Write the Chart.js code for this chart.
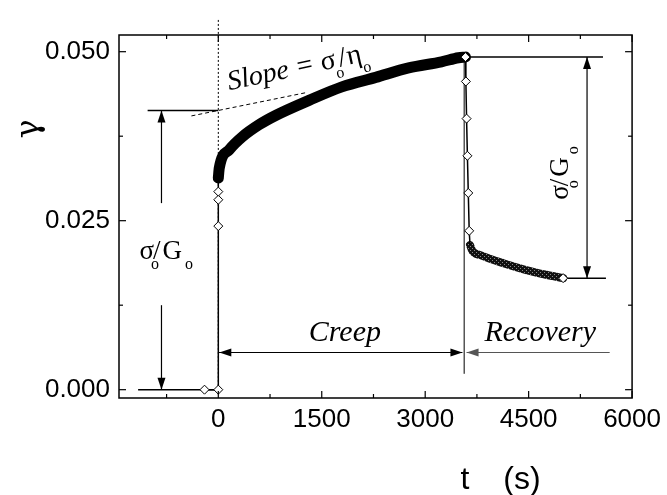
<!DOCTYPE html>
<html>
<head>
<meta charset="utf-8">
<script src="https://cdn.jsdelivr.net/npm/chart.js@4.4.0/dist/chart.umd.min.js"></script>
<style>
  body { margin: 0; background: #fff; }
</style>
</head>
<body>
<canvas id="creepChart" width="667" height="495"></canvas>
<script>
const jumpTime = [-200, 0, 0, 0, 0, 0];
const jumpStrain = [0, 0, 0.0242, 0.0281, 0.0293, 0.0313];

const creepTime = [0, 14, 159, 347, 592, 838, 1315, 1792, 2283, 2760, 3237, 3483, 3584];
const creepStrain = [0.0313, 0.0328, 0.0355, 0.0374, 0.0392, 0.0406, 0.0428, 0.0448, 0.0462, 0.0476, 0.0485, 0.0491, 0.0492];

const dropTime = [3584, 3590, 3600, 3612, 3625, 3638, 3650];
const dropStrain = [0.0492, 0.0456, 0.0401, 0.0346, 0.0291, 0.0235, 0.0214];

const recoveryTime = [3650, 3685, 3800, 4133, 4465, 4754, 5000];
const recoveryStrain = [0.0214, 0.0205, 0.0199, 0.0187, 0.0177, 0.0170, 0.0165];

const xTicks = [0, 1500, 3000, 4500, 6000];
const xMinor = [-750, 750, 2250, 3750, 5250];
const yTicks = [0, 0.025, 0.05];
const yMinor = [0.0125, 0.0375];

function pts(ts, gs) {
  return ts.map((t, i) => ({ x: t, y: gs[i] }));
}

// hatched look of the recovery band
function hatch() {
  const c = document.createElement('canvas');
  c.width = 4; c.height = 4;
  const g = c.getContext('2d');
  g.fillStyle = '#111';
  g.fillRect(0, 0, 4, 4);
  g.fillStyle = '#8a8a8a';
  g.fillRect(0, 0, 1, 1);
  g.fillRect(2, 2, 1, 1);
  return g.createPattern(c, 'repeat');
}

function arrowHead(ctx, x, y, ang) {
  ctx.save();
  ctx.translate(x, y);
  ctx.rotate(ang);
  ctx.beginPath();
  ctx.moveTo(0, 0);
  ctx.lineTo(-12, -4);
  ctx.lineTo(-12, 4);
  ctx.closePath();
  ctx.fill();
  ctx.restore();
}

// writes pieces like sigma_o/G_o, subscript pieces get sub:true
function richText(ctx, x, y, ang, parts, size) {
  ctx.save();
  ctx.translate(x, y);
  ctx.rotate(ang);
  ctx.textBaseline = 'alphabetic';
  ctx.textAlign = 'left';
  let cx = 0;
  parts.forEach(p => {
    const fs = p.sub ? Math.round(size * 0.58) : size;
    ctx.font = (p.italic ? 'italic ' : '') + fs + 'px "Liberation Serif", "Times New Roman", serif';
    cx += p.dx || 0;
    ctx.fillText(p.t, cx, p.sub ? size * 0.38 : 0);
    cx += ctx.measureText(p.t).width;
  });
  ctx.restore();
}

const sigmaG = [
  { t: 'σ' }, { t: 'o', sub: true, dx: -3 }, { t: '/', dx: -6 }, { t: 'G', dx: 2 }, { t: 'o', sub: true, dx: 3 }
];

const annotations = {
  id: 'annotations',
  beforeDatasetsDraw(chart) {
    const ctx = chart.ctx;
    const xs = chart.scales.x, ys = chart.scales.y;
    const X = v => xs.getPixelForValue(v), Y = v => ys.getPixelForValue(v);
    const line = (t1, g1, t2, g2) => {
      ctx.beginPath();
      ctx.moveTo(X(t1), Y(g1));
      ctx.lineTo(X(t2), Y(g2));
      ctx.stroke();
    };
    ctx.save();
    ctx.strokeStyle = '#000';
    ctx.fillStyle = '#000';

    // dotted line at t = 0 and dashed slope line
    ctx.lineWidth = 1;
    ctx.setLineDash([2, 2]);
    line(0, 0.0547, 0, 0);
    ctx.setLineDash([4, 3]);
    line(-390, 0.0405, 1300, 0.0440);
    ctx.setLineDash([]);

    // left sigma/G marker
    ctx.lineWidth = 1.5;
    line(-1025, 0.0413, 0, 0.0413);
    line(-1163, 0, 0, 0);
    ctx.lineWidth = 1.2;
    line(-824, 0.0276, -824, 0.0413);
    arrowHead(ctx, X(-824), Y(0.0413), -Math.PI / 2);
    line(-824, 0.0125, -824, 0);
    arrowHead(ctx, X(-824), Y(0), Math.PI / 2);

    // right sigma/G marker
    ctx.lineWidth = 1.5;
    line(3584, 0.0492, 5578, 0.0492);
    line(5000, 0.0165, 5621, 0.0165);
    ctx.lineWidth = 1.2;
    line(5347, 0.0492, 5347, 0.0165);
    arrowHead(ctx, X(5347), Y(0.0492), -Math.PI / 2);
    arrowHead(ctx, X(5347), Y(0.0165), Math.PI / 2);

    // creep / recovery split
    ctx.lineWidth = 1;
    line(3565, 0.0492, 3565, 0.00235);
    ctx.lineWidth = 1.2;
    line(0, 0.0055, 3540, 0.0055);
    arrowHead(ctx, X(0) + 1, Y(0.0055), Math.PI);
    arrowHead(ctx, X(3540), Y(0.0055), 0);
    ctx.strokeStyle = '#555';
    ctx.fillStyle = '#555';
    line(3600, 0.0055, 5675, 0.0055);
    arrowHead(ctx, X(3600), Y(0.0055), Math.PI);
    ctx.restore();
  },
  afterDraw(chart) {
    const ctx = chart.ctx;
    const xs = chart.scales.x, ys = chart.scales.y;
    const X = v => xs.getPixelForValue(v), Y = v => ys.getPixelForValue(v);
    const a = chart.chartArea;
    ctx.save();
    ctx.strokeStyle = '#000';
    ctx.fillStyle = '#000';
    ctx.lineWidth = 1.5;
    ctx.strokeRect(a.left, a.top, a.right - a.left, a.bottom - a.top);

    // inward ticks on all four sides
    ctx.lineWidth = 1.2;
    const tick = (x1, y1, x2, y2) => { ctx.beginPath(); ctx.moveTo(x1, y1); ctx.lineTo(x2, y2); ctx.stroke(); };
    xTicks.concat(xMinor).forEach(t => {
      const len = xTicks.includes(t) ? 7 : 4;
      const px = X(t);
      tick(px, a.bottom, px, a.bottom - len);
      tick(px, a.top, px, a.top + len);
    });
    yTicks.concat(yMinor).forEach(g => {
      const len = yTicks.includes(g) ? 7 : 4;
      const py = Y(g);
      tick(a.left, py, a.left + len, py);
      tick(a.right, py, a.right - len, py);
    });

    // axis titles
    ctx.font = '32px "DejaVu Serif", serif';
    ctx.textAlign = 'center';
    ctx.textBaseline = 'middle';
    ctx.save();
    ctx.translate(30, 129);
    ctx.rotate(-Math.PI / 2);
    ctx.fillText('γ', 0, 0);
    ctx.restore();
    ctx.textBaseline = 'alphabetic';
    ctx.font = '32px "Liberation Sans", Arial, sans-serif';
    ctx.fillText('t', 465, 489);
    ctx.fillText('(s)', 522, 489);

    // labels inside the plot
    ctx.font = 'italic 30px "Liberation Serif", "Times New Roman", serif';
    ctx.fillText('Creep', X(1835), Y(0.0072));
    ctx.fillText('Recovery', X(4668), Y(0.0072));

    richText(ctx, X(-1142), Y(0.0193), 0, sigmaG, 27);
    richText(ctx, X(5072), Y(0.0281), -Math.PI / 2, sigmaG, 27);
    richText(ctx, X(159), Y(0.0443), -12 * Math.PI / 180, [
      { t: 'Slope = ', italic: true }, { t: 'σ' }, { t: 'o', sub: true, dx: -2 },
      { t: '/', dx: -3 }, { t: 'η', dx: 1 }, { t: 'o', sub: true, dx: -1 }
    ], 28);
    ctx.restore();
  }
};

const diamond = { pointStyle: 'rectRot', pointBackgroundColor: '#fff', pointBorderColor: '#000', pointBorderWidth: 1 };

new Chart(document.getElementById('creepChart'), {
  type: 'scatter',
  data: {
    datasets: [
      Object.assign({
        data: pts(jumpTime, jumpStrain), showLine: true, borderColor: '#000', borderWidth: 1.5,
        pointRadius: jumpTime.map((t, i) => i < jumpTime.length - 1 ? 4.5 : 0)
      }, diamond),
      Object.assign({
        data: pts(creepTime, creepStrain), showLine: true, borderColor: '#000', borderWidth: 11,
        borderCapStyle: 'round', borderJoinStyle: 'round', cubicInterpolationMode: 'monotone',
        pointRadius: creepTime.map((t, i) => i === creepTime.length - 1 ? 4.5 : 0)
      }, diamond),
      Object.assign({
        data: pts(dropTime, dropStrain), showLine: true, borderColor: '#000', borderWidth: 1.5,
        pointRadius: dropTime.map((t, i) => i > 0 && i < dropTime.length - 1 ? 4.5 : 0)
      }, diamond),
      Object.assign({
        data: pts(recoveryTime, recoveryStrain), showLine: true, borderColor: hatch(), borderWidth: 8,
        borderCapStyle: 'round', borderJoinStyle: 'round', cubicInterpolationMode: 'monotone',
        pointRadius: recoveryTime.map((t, i) => i === recoveryTime.length - 1 ? 4.5 : 0)
      }, diamond)
    ]
  },
  options: {
    responsive: false,
    animation: false,
    layout: { padding: { top: 35, right: 33, left: 0, bottom: 0 } },
    plugins: { legend: { display: false }, tooltip: { enabled: false } },
    scales: {
      x: {
        type: 'linear', min: -1440, max: 6000,
        grid: { display: false, drawTicks: false }, border: { display: false },
        afterBuildTicks: s => { s.ticks = xTicks.map(v => ({ value: v })); },
        afterFit: s => { s.height = 97; },
        ticks: { padding: 6, color: '#000', font: { size: 26, family: '"Liberation Sans", Arial, sans-serif' }, callback: v => String(v) }
      },
      y: {
        type: 'linear', min: -0.00123, max: 0.05247,
        grid: { display: false, drawTicks: false }, border: { display: false },
        afterBuildTicks: s => { s.ticks = yTicks.map(v => ({ value: v })); },
        afterFit: s => { s.width = 119; },
        ticks: { padding: 9, color: '#000', font: { size: 26, family: '"Liberation Sans", Arial, sans-serif' }, callback: v => v.toFixed(3) }
      }
    }
  },
  plugins: [annotations]
});
</script>
</body>
</html>
